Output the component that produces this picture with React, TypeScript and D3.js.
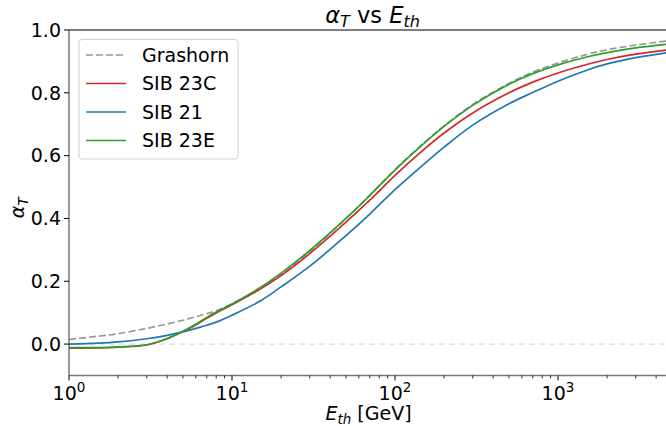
import React from 'react';
import * as d3 from 'd3';

const energies = [1, 1.5, 2, 3, 4, 5, 6, 7, 8, 10, 15, 20, 30, 50, 70, 100, 150, 200, 300, 500, 700, 1000, 1500, 2000, 3000, 5000];
const grashorn = [0.015, 0.025, 0.033, 0.05, 0.064, 0.076, 0.087, 0.097, 0.106, 0.128, 0.178, 0.222, 0.295, 0.4, 0.474, 0.556, 0.64, 0.695, 0.763, 0.83, 0.866, 0.895, 0.922, 0.937, 0.952, 0.967];
const sib23c = [-0.013, -0.012, -0.01, -0.003, 0.017, 0.04, 0.061, 0.082, 0.099, 0.125, 0.176, 0.218, 0.288, 0.388, 0.458, 0.537, 0.619, 0.672, 0.736, 0.8, 0.834, 0.863, 0.89, 0.906, 0.923, 0.938];
const sib21 = [0.0, 0.003, 0.007, 0.017, 0.028, 0.039, 0.05, 0.06, 0.07, 0.092, 0.138, 0.182, 0.248, 0.345, 0.414, 0.492, 0.572, 0.627, 0.697, 0.765, 0.801, 0.837, 0.872, 0.892, 0.912, 0.93];
const sib23e = [-0.011, -0.011, -0.009, -0.002, 0.018, 0.041, 0.063, 0.085, 0.102, 0.128, 0.181, 0.226, 0.298, 0.4, 0.473, 0.554, 0.638, 0.693, 0.76, 0.827, 0.861, 0.889, 0.914, 0.928, 0.943, 0.956];
const yTicks = [0, 0.2, 0.4, 0.6, 0.8, 1.0];
const xDecades = [1, 10, 100, 1000];

const series = [
  { name: 'Grashorn', values: grashorn, color: '#999999', dash: '7,3' },
  { name: 'SIB 23C', values: sib23c, color: '#d62728', dash: null },
  { name: 'SIB 21', values: sib21, color: '#1f77b4', dash: null },
  { name: 'SIB 23E', values: sib23e, color: '#2ca02c', dash: null },
];

const W = 666;
const H = 426;
const left = 69;
const right = 676;
const top = 30;
const bottom = 375.5;
const font = '"DejaVu Sans", sans-serif';
const fs = 19;

export default function App() {
  const x = d3.scaleLog().domain([1, Math.pow(10, (right - left) / 163)]).range([left, right]);
  const y = d3.scaleLinear().domain([-0.1, 1.0]).range([bottom, top]);

  const line = d3
    .line<number>()
    .x((_, i) => x(energies[i]))
    .y((d) => y(d))
    .curve(d3.curveCatmullRom.alpha(0.5));

  // minor ticks 2..9 per decade
  const minor: number[] = [];
  for (let dec = 1; dec <= 10000; dec *= 10) {
    for (let k = 2; k <= 9; k++) {
      const v = dec * k;
      if (x(v) <= W) minor.push(v);
    }
  }

  return (
    <svg width={W} height={H} style={{ position: 'absolute', left: 0, top: 0, background: '#fff' }} fontFamily={font}>
      <defs>
        <clipPath id="plot">
          <rect x={left} y={top} width={right - left} height={bottom - top} />
        </clipPath>
      </defs>

      {/* zero reference */}
      <line x1={left} x2={right} y1={y(0)} y2={y(0)} stroke="#dddddd" strokeWidth={1.2} strokeDasharray="6,4" />

      <g clipPath="url(#plot)">
        {series.map((s) => (
          <path
            key={s.name}
            d={line(s.values) || ''}
            fill="none"
            stroke={s.color}
            strokeWidth={1.7}
            strokeDasharray={s.dash || undefined}
          />
        ))}
      </g>

      {/* spines */}
      <line x1={left} x2={right} y1={top} y2={top} stroke="#000" strokeWidth={1.2} />
      <line x1={left} x2={left} y1={top} y2={bottom} stroke="#555" strokeWidth={1.2} />
      <line x1={left} x2={right} y1={bottom} y2={bottom} stroke="#777" strokeWidth={1.6} />

      {/* y ticks */}
      {yTicks.map((t) => (
        <g key={t}>
          <line x1={left - 5} x2={left} y1={y(t)} y2={y(t)} stroke="#000" strokeWidth={1} />
          <text x={left - 8} y={y(t)} dy="0.36em" textAnchor="end" fontSize={fs} fill="#000">
            {t.toFixed(1)}
          </text>
        </g>
      ))}

      {/* x ticks */}
      {minor.map((v) => (
        <line key={'m' + v} x1={x(v)} x2={x(v)} y1={bottom} y2={bottom + 3} stroke="#000" strokeWidth={0.8} />
      ))}
      {xDecades.map((v, i) => (
        <g key={v}>
          <line x1={x(v)} x2={x(v)} y1={bottom} y2={bottom + 5} stroke="#000" strokeWidth={1} />
          <text x={x(v)} y={bottom + 24} textAnchor="middle" fontSize={fs} fill="#000">
            10
            <tspan dy={-8} fontSize={13.5}>{i}</tspan>
          </text>
        </g>
      ))}

      {/* title */}
      <text x={(left + right) / 2} y={23} textAnchor="middle" fontSize={22.5} fill="#000">
        <tspan fontStyle="italic">α</tspan>
        <tspan fontStyle="italic" fontSize={16} dy={4}>T</tspan>
        <tspan dy={-4}> vs </tspan>
        <tspan fontStyle="italic">E</tspan>
        <tspan fontStyle="italic" fontSize={16} dy={4}>th</tspan>
      </text>

      {/* x label */}
      <text x={(left + right) / 2 - 4} y={420} textAnchor="middle" fontSize={fs} fill="#000">
        <tspan fontStyle="italic">E</tspan>
        <tspan fontStyle="italic" fontSize={13.5} dy={4}>th</tspan>
        <tspan dy={-4}> [GeV]</tspan>
      </text>

      {/* y label */}
      <text transform={`translate(24,${(top + bottom) / 2 + 5}) rotate(-90)`} textAnchor="middle" fontSize={fs} fill="#000">
        <tspan fontStyle="italic">α</tspan>
        <tspan fontStyle="italic" fontSize={13.5} dy={4}>T</tspan>
      </text>

      {/* legend */}
      <rect x={79} y={39.5} width={159} height={119.5} rx={3} fill="#fff" fillOpacity={0.8} stroke="#d0d0d0" strokeWidth={1} />
      {series.map((s, i) => {
        const cy = 55 + i * 28.5;
        return (
          <g key={'lg' + s.name}>
            <line x1={86} x2={126} y1={cy} y2={cy} stroke={s.color} strokeWidth={1.7} strokeDasharray={s.dash || undefined} />
            <text x={142} y={cy} dy="0.36em" fontSize={fs} fill="#000">
              {s.name}
            </text>
          </g>
        );
      })}
    </svg>
  );
}
